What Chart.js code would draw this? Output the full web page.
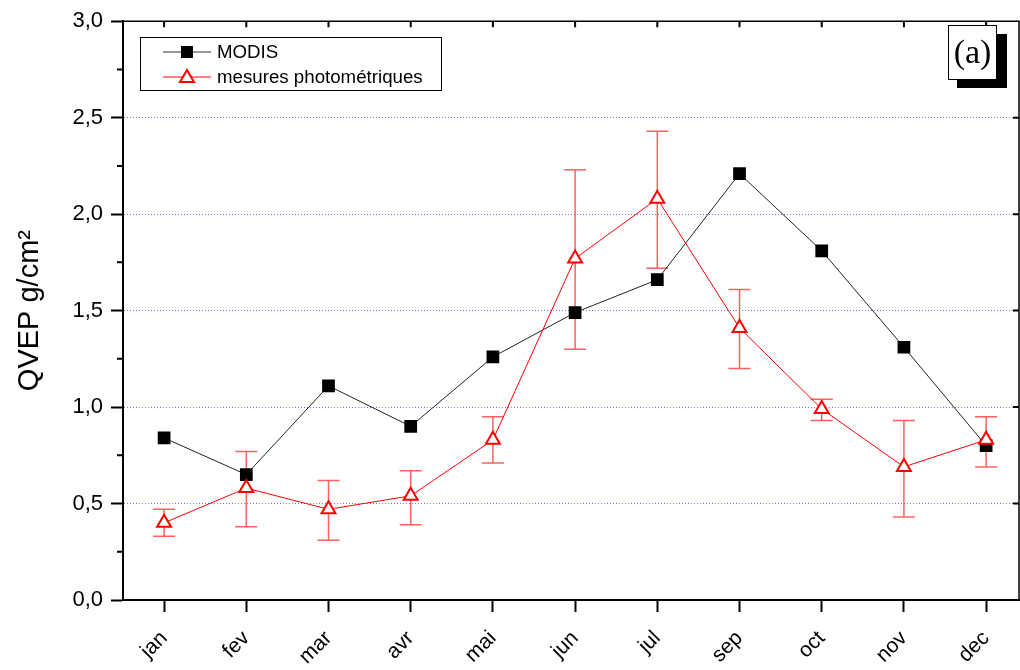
<!DOCTYPE html>
<html>
<head>
<meta charset="utf-8">
<script src="https://cdn.jsdelivr.net/npm/chart.js@4.4.1/dist/chart.umd.min.js"></script>
<style>
  html, body { margin: 0; padding: 0; background: #fff; }
</style>
</head>
<body>
<canvas id="chart" width="1020" height="670"></canvas>
<script>
// data
const months = ['jan', 'fev', 'mar', 'avr', 'mai', 'jun', 'jul', 'sep', 'oct', 'nov', 'dec'];
const modis = [0.84, 0.65, 1.11, 0.90, 1.26, 1.49, 1.66, 2.21, 1.81, 1.31, 0.80];
const photo = [0.40, 0.58, 0.47, 0.54, 0.83, 1.77, 2.08, 1.41, 0.99, 0.69, 0.83];
const photoLow = [0.33, 0.38, 0.31, 0.39, 0.71, 1.30, 1.72, 1.20, 0.93, 0.43, 0.69];
const photoHigh = [0.47, 0.77, 0.62, 0.67, 0.95, 2.23, 2.43, 1.61, 1.04, 0.93, 0.95];

const FONT = 'Arial, "Liberation Sans", sans-serif';

// error bars under the points
const errorBars = {
  id: 'errorBars',
  beforeDatasetsDraw(chart) {
    const { ctx, scales: { x, y } } = chart;
    ctx.save();
    ctx.strokeStyle = 'rgba(255, 30, 30, 0.7)';
    ctx.lineWidth = 1.5;
    photo.forEach((v, i) => {
      const px = x.getPixelForValue(i + 1);
      const top = y.getPixelForValue(photoHigh[i]);
      const bot = y.getPixelForValue(photoLow[i]);
      ctx.beginPath();
      ctx.moveTo(px, top); ctx.lineTo(px, bot);
      ctx.moveTo(px - 11, top); ctx.lineTo(px + 11, top);
      ctx.moveTo(px - 11, bot); ctx.lineTo(px + 11, bot);
      ctx.stroke();
    });
    ctx.restore();
  }
};

// top/right frame, minor ticks, legend and (a) label
const extras = {
  id: 'extras',
  afterDraw(chart) {
    const { ctx, chartArea: a, scales: { x, y } } = chart;
    ctx.save();
    ctx.strokeStyle = '#000';
    ctx.lineWidth = 1.5;
    ctx.beginPath();
    ctx.moveTo(a.left, a.top); ctx.lineTo(a.right, a.top); ctx.lineTo(a.right, a.bottom);
    ctx.stroke();

    ctx.lineWidth = 2;
    ctx.beginPath();
    for (let v = 0.25; v < 3; v += 0.5) {
      const py = y.getPixelForValue(v);
      ctx.moveTo(a.left - 6, py); ctx.lineTo(a.left, py);
    }
    for (let v = 0.5; v < 3; v += 0.5) {
      const py = y.getPixelForValue(v);
      ctx.moveTo(a.right - 6, py); ctx.lineTo(a.right, py);
    }
    months.forEach((m, i) => {
      const px = x.getPixelForValue(i + 1);
      ctx.moveTo(px, a.top); ctx.lineTo(px, a.top + 6);
    });
    ctx.stroke();

    // legend
    ctx.lineWidth = 1;
    ctx.strokeStyle = '#000';
    ctx.fillStyle = '#fff';
    ctx.fillRect(140.5, 37.5, 301, 53);
    ctx.strokeRect(140.5, 37.5, 301, 53);
    ctx.strokeStyle = '#333';
    ctx.beginPath();
    ctx.moveTo(163, 52); ctx.lineTo(211, 52);
    ctx.stroke();
    ctx.fillStyle = '#000';
    ctx.fillRect(181, 46, 12, 12);
    ctx.strokeStyle = '#f00';
    ctx.beginPath();
    ctx.moveTo(163, 77); ctx.lineTo(211, 77);
    ctx.stroke();
    ctx.fillStyle = '#fff';
    ctx.lineWidth = 2;
    ctx.beginPath();
    ctx.moveTo(187, 70); ctx.lineTo(194, 82); ctx.lineTo(180, 82); ctx.closePath();
    ctx.fill(); ctx.stroke();
    ctx.fillStyle = '#000';
    ctx.font = '18.7px ' + FONT;
    ctx.textBaseline = 'middle';
    ctx.textAlign = 'left';
    ctx.fillText('MODIS', 217, 53);
    ctx.fillText('mesures photométriques', 217, 78);

    // (a) box with shadow
    ctx.fillStyle = '#000';
    ctx.fillRect(957, 34, 50, 54);
    ctx.fillStyle = '#fff';
    ctx.fillRect(948, 25, 49, 55);
    ctx.lineWidth = 1;
    ctx.strokeStyle = '#000';
    ctx.strokeRect(948.5, 25.5, 48, 54);
    ctx.fillStyle = '#000';
    ctx.font = '34px "Liberation Serif", "Times New Roman", serif';
    ctx.textAlign = 'center';
    ctx.fillText('(a)', 972.5, 54);
    ctx.restore();
  }
};

const ctx = document.getElementById('chart').getContext('2d');

new Chart(ctx, {
  type: 'line',
  data: {
    datasets: [
      {
        label: 'mesures photométriques',
        data: photo.map((v, i) => ({ x: i + 1, y: v })),
        borderColor: '#ff0000',
        borderWidth: 1,
        pointStyle: 'triangle',
        pointRadius: 8,
        pointBackgroundColor: '#fff',
        pointBorderColor: '#ff0000',
        pointBorderWidth: 2,
        order: 0
      },
      {
        label: 'MODIS',
        data: modis.map((v, i) => ({ x: i + 1, y: v })),
        borderColor: '#222',
        borderWidth: 1,
        pointStyle: 'rect',
        pointRadius: 9,
        pointBackgroundColor: '#000',
        pointBorderWidth: 0,
        order: 1
      }
    ]
  },
  options: {
    responsive: false,
    animation: false,
    layout: { autoPadding: false, padding: { top: 19, right: 1, left: 0, bottom: 0 } },
    plugins: {
      legend: { display: false },
      tooltip: { enabled: false }
    },
    scales: {
      x: {
        type: 'linear',
        min: 0.5,
        max: 11.4,
        afterFit(scale) {
          scale.height = 70;
          scale.paddingLeft = 0;
          scale.paddingRight = 0;
        },
        afterBuildTicks(scale) {
          scale.ticks = months.map((m, i) => ({ value: i + 1 }));
        },
        ticks: {
          autoSkip: false,
          minRotation: 45,
          maxRotation: 45,
          color: '#000',
          font: { family: FONT, size: 21 },
          padding: 14,
          callback: (v) => months[v - 1]
        },
        grid: {
          drawOnChartArea: false,
          tickLength: 12,
          tickColor: '#000',
          tickWidth: 2
        },
        border: { color: '#000', width: 2 }
      },
      y: {
        min: 0,
        max: 3,
        afterFit(scale) { scale.width = 123; },
        ticks: {
          stepSize: 0.5,
          color: '#000',
          font: { family: FONT, size: 22 },
          padding: 8,
          callback: (v) => v.toFixed(1).replace('.', ',')
        },
        grid: {
          color: (c) => (c.tick && c.tick.value > 0 && c.tick.value < 3) ? 'rgba(80, 80, 230, 0.8)' : 'rgba(0,0,0,0)',
          tickBorderDash: [],
          lineWidth: 1,
          tickLength: 12,
          tickColor: '#000',
          tickWidth: 2
        },
        border: { color: '#000', width: 2, dash: [1, 2] },
        title: {
          display: true,
          text: 'QVEP g/cm²',
          color: '#000',
          font: { family: FONT, size: 29 },
          padding: { top: 13, bottom: 0 }
        }
      }
    }
  },
  plugins: [errorBars, extras]
});
</script>
</body>
</html>
